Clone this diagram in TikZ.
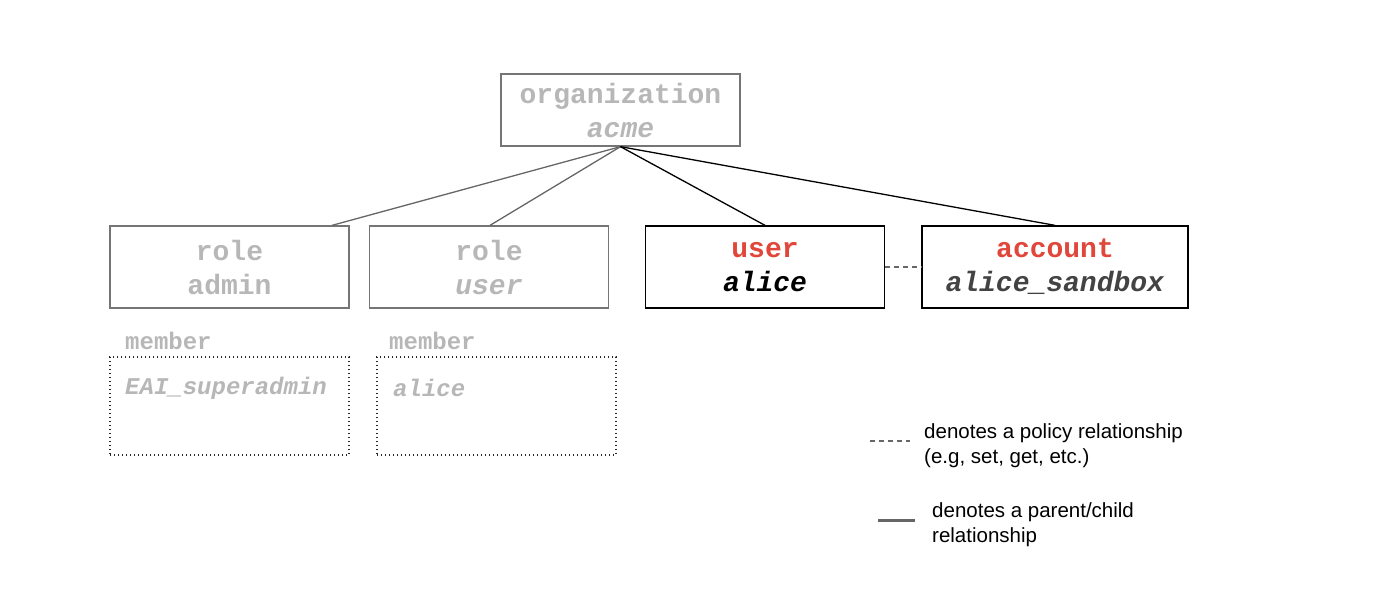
\documentclass[tikz,border=0pt]{standalone}
\usepackage{fontspec}
\setmainfont{Liberation Sans}
\setmonofont{Liberation Mono}
\usepackage{xcolor}
\usepackage{tikz}
\usetikzlibrary{positioning}

\definecolor{fadedtext}{HTML}{B7B7B7}
\definecolor{edgegray}{HTML}{666666}
\definecolor{tagred}{HTML}{E0463A}
\definecolor{darktext}{HTML}{434343}

\begin{document}
\begin{tikzpicture}[x=1pt, y=-1pt,
      box/.style={draw, line width=1.3pt, minimum width=239pt, minimum height=82pt,
                  align=center, inner sep=0pt, font=\ttfamily\bfseries\fontsize{28}{34}\selectfont},
      faded/.style={box, draw=edgegray!90, text=fadedtext},
      active/.style={box, draw=black},
      memberbox/.style={draw=black!85, line width=1.3pt, dash pattern=on 1.3pt off 2.7pt,
                  minimum width=239pt, minimum height=98pt, inner sep=0pt},
      tag/.style={anchor=west, inner sep=0pt, text=fadedtext,
                  font=\ttfamily\bfseries\fontsize{24}{28}\selectfont},
      parent/.style={line width=1.3pt},
      policy/.style={draw=edgegray, line width=1.2pt, dash pattern=on 5pt off 4pt},
      legend/.style={anchor=west, inner sep=0pt, align=left, font=\fontsize{20.5}{25}\selectfont},
    ]
    \useasboundingbox (0,0) rectangle (1398,614);

    % Organization
    \node[faded, minimum height=72pt] (org) at (620.5,110) {organization\\\textit{acme}};

    % Roles
    \node[faded] (admin) at (229.5,267) {role\\admin};
    \node[faded] (roleuser) at (489,267) {role\\\textit{user}};

    % User and account
    \node[active] (alice) at (765,267) {\textcolor{tagred}{user}\\\textit{alice}};
    \node[active, minimum width=266pt] (sandbox) at (1055,267)
      {\textcolor{tagred}{account}\\\textcolor{darktext}{\textit{alice\_sandbox}}};

    % Members
    \node[memberbox] (adminmembers) at (229.5,406) {};
    \node[memberbox] (usermembers) at (496.5,406) {};
    \node[tag] (adminlabel) at (125,341) {member};
    \node[tag] (userlabel) at (389,341) {member};
    \node[tag] (superadmin) at (125,388) {\textit{EAI\_superadmin}};
    \node[tag] (alicemember) at (393,388) {\textit{alice}};

    % Arrows
    \draw[parent, edgegray] (org.south) -- ([xshift=102.5pt]admin.north);
    \draw[parent, edgegray] (org.south) -- ([xshift=1pt]roleuser.north);
    \draw[parent] (org.south) -- (alice.north);
    \draw[parent] (org.south) -- (sandbox.north);
    \draw[policy] (alice.east) -- (sandbox.west);

    % Legend
    \coordinate (policyA) at (870,441);
    \coordinate (policyB) at (910,441);
    \draw[policy] (policyA) -- (policyB);
    \node[legend] (policytext) at (924,446) {denotes a policy relationship\\(e.g, set, get, etc.)};

    \coordinate (parentA) at (878,520);
    \coordinate (parentB) at (915,520);
    \draw[draw=edgegray, line width=3pt] (parentA) -- (parentB);
    \node[legend] (parenttext) at (932,525) {denotes a parent/child\\relationship};

  \end{tikzpicture}
\end{document}
